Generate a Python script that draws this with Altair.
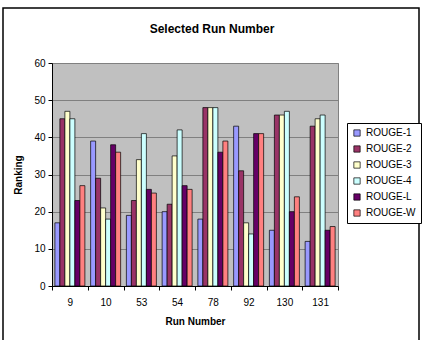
import altair as alt
import pandas as pd

runs = ["9", "10", "53", "54", "78", "92", "130", "131"]
series = ["ROUGE-1", "ROUGE-2", "ROUGE-3", "ROUGE-4", "ROUGE-L", "ROUGE-W"]
rouge_1 = [17, 39, 19, 20, 18, 43, 15, 12]
rouge_2 = [45, 29, 23, 22, 48, 31, 46, 43]
rouge_3 = [47, 21, 34, 35, 48, 17, 46, 45]
rouge_4 = [45, 18, 41, 42, 48, 14, 47, 46]
rouge_l = [23, 38, 26, 27, 36, 41, 20, 15]
rouge_w = [27, 36, 25, 26, 39, 41, 24, 16]
colors = ["#9999FF", "#993366", "#FFFFCC", "#CCFFFF", "#660066", "#FF8080"]

values = [rouge_1, rouge_2, rouge_3, rouge_4, rouge_l, rouge_w]
rows = []
for s, vals in zip(series, values):
    for r, v in zip(runs, vals):
        rows.append({"Run": r, "Series": s, "Ranking": v})
df = pd.DataFrame(rows)

FONT = "Liberation Sans"

bars = alt.Chart(df).mark_bar(stroke="black", strokeWidth=0.7).encode(
    x=alt.X("Run:N", sort=runs,
            scale=alt.Scale(paddingInner=0, paddingOuter=0),
            axis=alt.Axis(title="Run Number", labelAngle=0, tickBand="extent",
                          domainColor="black", tickColor="black", tickSize=4,
                          labelFont=FONT, labelFontSize=10, labelColor="black",
                          labelPadding=7,
                          titleFont=FONT, titleFontSize=10, titleFontWeight="bold",
                          titleColor="black", titlePadding=9)),
    xOffset=alt.XOffset("Series:N", sort=series,
                        scale=alt.Scale(paddingInner=0, paddingOuter=0.575)),
    y=alt.Y("Ranking:Q", scale=alt.Scale(domain=[0, 60]),
            axis=alt.Axis(title="Ranking", values=[0, 10, 20, 30, 40, 50, 60],
                          domainColor="black", tickColor="black", tickSize=4,
                          gridColor="#808080", gridWidth=1,
                          labelFont=FONT, labelFontSize=10, labelColor="black",
                          labelPadding=3,
                          titleFont=FONT, titleFontSize=10, titleFontWeight="bold",
                          titleColor="black", titlePadding=10)),
    color=alt.Color("Series:N", sort=series,
                    scale=alt.Scale(domain=series, range=colors),
                    legend=alt.Legend(title=None, orient="none", legendX=295, legendY=60,
                                      symbolType="square", symbolSize=40,
                                      symbolStrokeColor="black", symbolStrokeWidth=0.7,
                                      symbolOpacity=1,
                                      labelFont=FONT, labelFontSize=10, labelColor="black",
                                      rowPadding=6, padding=5,
                                      strokeColor="black", fillColor="white")),
)

frame = alt.Chart(pd.DataFrame({"a": [0]})).mark_rect(
    fill=None, stroke="black", strokeWidth=1.5, clip=False
).encode(
    x=alt.value(-49), x2=alt.value(367), y=alt.value(-55), y2=alt.value(300)
)

chart = alt.layer(bars, frame).properties(
    width=286, height=223,
    padding={"left": 52, "top": 63, "right": 90, "bottom": 54},
    autosize=alt.AutoSizeParams(type="none"),
    background="white",
    title=alt.TitleParams("Selected Run Number", font=FONT, fontSize=12,
                          fontWeight="bold", color="black", anchor="middle",
                          dx=17, offset=2, dy=31),
).configure_view(
    fill="#C0C0C0", stroke="#808080", strokeWidth=1
)

chart.save("out.html", embed_options={"renderer": "svg", "actions": False})
